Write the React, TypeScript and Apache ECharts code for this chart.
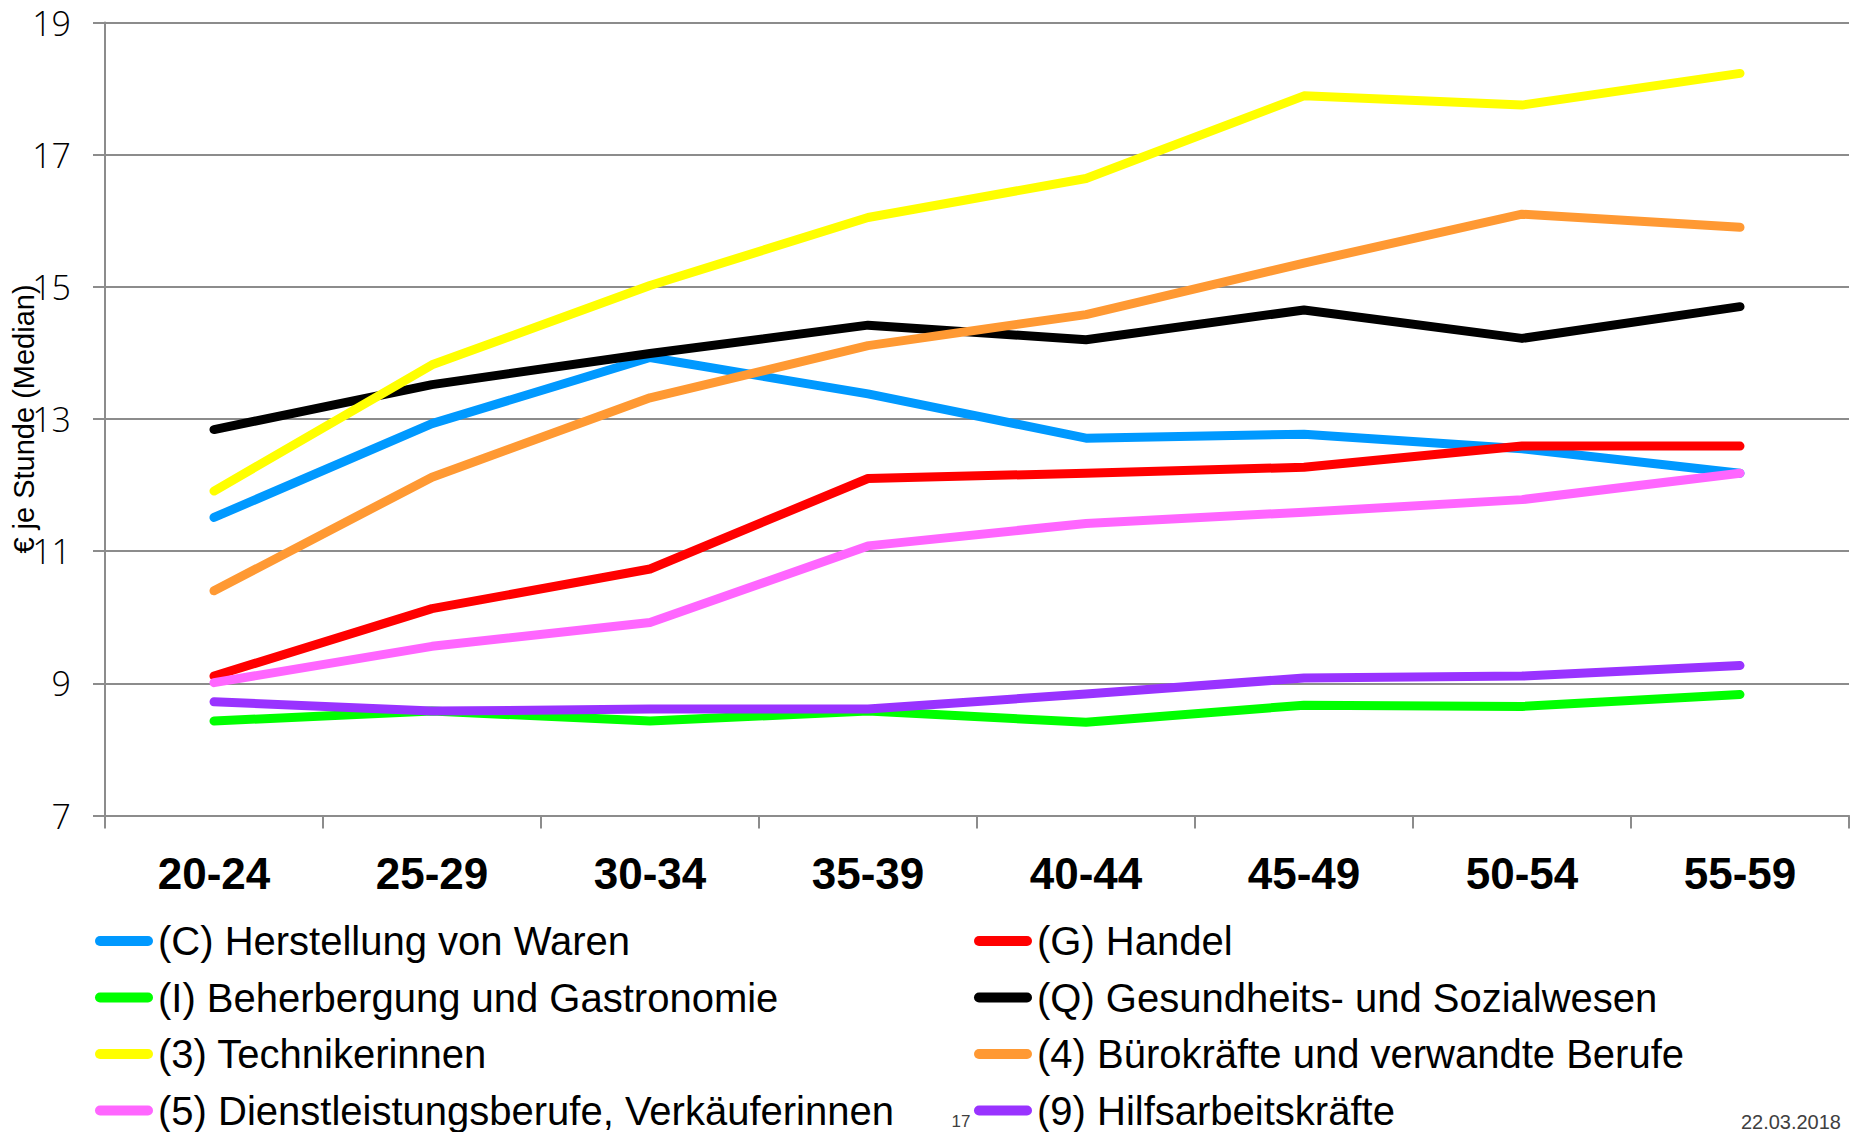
import React, { useEffect, useRef } from "react";
import * as echarts from "echarts";

const categories = ["20-24", "25-29", "30-34", "35-39", "40-44", "45-49", "50-54", "55-59"];

const nameC = "(C) Herstellung von Waren";
const nameG = "(G) Handel";
const nameI = "(I) Beherbergung und Gastronomie";
const nameQ = "(Q) Gesundheits- und Sozialwesen";
const name3 = "(3) Technikerinnen";
const name4 = "(4) Bürokräfte und verwandte Berufe";
const name5 = "(5) Dienstleistungsberufe, Verkäuferinnen";
const name9 = "(9) Hilfsarbeitskräfte";

const valuesC = [11.51, 12.93, 13.93, 13.38, 12.71, 12.77, 12.55, 12.18];
const valuesG = [9.11, 10.13, 10.73, 12.1, 12.18, 12.27, 12.59, 12.59];
const valuesI = [8.43, 8.58, 8.43, 8.58, 8.41, 8.67, 8.65, 8.83];
const valuesQ = [12.84, 13.52, 13.99, 14.42, 14.2, 14.65, 14.22, 14.7];
const values3 = [11.91, 13.82, 15.02, 16.05, 16.64, 17.89, 17.75, 18.23];
const values4 = [10.4, 12.12, 13.32, 14.11, 14.58, 15.36, 16.1, 15.9];
const values5 = [9.01, 9.56, 9.92, 11.08, 11.42, 11.59, 11.78, 12.18];
const values9 = [8.72, 8.58, 8.61, 8.61, 8.84, 9.08, 9.11, 9.27];

const yMin = 7;
const yMax = 19;
const yInterval = 2;

const yAxisName = "€ je Stunde (Median)";
const pageNumber = "17";
const dateText = "22.03.2018";

const seriesDefs = [
  { name: nameC, data: valuesC, color: "#0099FF" },
  { name: nameG, data: valuesG, color: "#FF0000" },
  { name: nameI, data: valuesI, color: "#00FF00" },
  { name: nameQ, data: valuesQ, color: "#000000" },
  { name: name3, data: values3, color: "#FFFF00" },
  { name: name4, data: values4, color: "#FF9933" },
  { name: name5, data: values5, color: "#FF66FF" },
  { name: name9, data: values9, color: "#9933FF" },
];

// legend layout: [name, column, row]
const legendCells: [string, number, number][] = [
  [nameC, 0, 0],
  [nameG, 1, 0],
  [nameI, 0, 1],
  [nameQ, 1, 1],
  [name3, 0, 2],
  [name4, 1, 2],
  [name5, 0, 3],
  [name9, 1, 3],
];

const GRID = "#8c8c8c";
const capsule = "path://M5,0 L53,0 A5,5 0 0 1 53,10 L5,10 A5,5 0 0 1 5,0 Z";

export default function App() {
  const ref = useRef<HTMLDivElement>(null);

  useEffect(() => {
    if (!ref.current) return;
    const chart = echarts.init(ref.current, null, { renderer: "svg" });

    const colLeft = [95, 974];
    const rowTop0 = 921;
    const rowStep = 56.5;

    const legends = legendCells.map(([name, col, row]) => ({
      orient: "horizontal" as const,
      left: colLeft[col],
      top: rowTop0 + row * rowStep,
      padding: 0,
      itemWidth: 58,
      itemHeight: 10,
      icon: capsule,
      data: [name],
      textStyle: {
        fontFamily: "Liberation Sans, Arial, sans-serif",
        fontSize: 40,
        lineHeight: 40,
        color: "#000",
      },
    }));

    chart.setOption({
      animation: false,
      backgroundColor: "#ffffff",
      grid: {
        left: 105,
        right: 7,
        top: 22.5,
        bottom: 316.5,
        containLabel: false,
        outerBoundsMode: "none",
      },
      xAxis: {
        type: "category",
        data: categories,
        boundaryGap: true,
        axisLine: { show: true, lineStyle: { color: GRID, width: 2 } },
        axisTick: { show: true, length: 13, lineStyle: { color: GRID, width: 2 } },
        axisLabel: {
          margin: 36,
          fontFamily: "Liberation Sans, Arial, sans-serif",
          fontWeight: "bold",
          fontSize: 44,
          color: "#000",
        },
        splitLine: { show: false },
      },
      yAxis: {
        type: "value",
        min: yMin,
        max: yMax,
        interval: yInterval,
        name: yAxisName,
        nameLocation: "middle",
        nameRotate: 90,
        nameGap: 67,
        nameMoveOverlap: false,
        nameTextStyle: {
          fontFamily: "Liberation Sans, Arial, sans-serif",
          fontSize: 29,
          color: "#000",
        },
        axisLine: { show: true, lineStyle: { color: GRID, width: 2 } },
        axisTick: { show: true, length: 12, lineStyle: { color: GRID, width: 2 } },
        axisLabel: {
          margin: 34,
          fontFamily: "Open Sans, Liberation Sans, sans-serif",
          fontWeight: 300,
          fontSize: 34,
          color: "#000",
        },
        splitLine: { show: true, lineStyle: { color: GRID, width: 2 } },
      },
      legend: legends,
      graphic: [
        {
          type: "text",
          x: 961,
          y: 1121,
          style: {
            text: pageNumber,
            fontFamily: "Liberation Sans, Arial, sans-serif",
            fontSize: 17,
            fill: "#404040",
            align: "center",
            verticalAlign: "middle",
          },
        },
        {
          type: "text",
          x: 1841,
          y: 1122,
          style: {
            text: dateText,
            fontFamily: "Liberation Sans, Arial, sans-serif",
            fontSize: 20,
            fill: "#404040",
            align: "right",
            verticalAlign: "middle",
          },
        },
      ],
      series: seriesDefs.map((s) => ({
        name: s.name,
        type: "line",
        data: s.data,
        showSymbol: false,
        symbol: "none",
        color: s.color,
        lineStyle: { color: s.color, width: 9, cap: "round", join: "round" },
        itemStyle: { color: s.color },
      })),
    });

    return () => {
      chart.dispose();
    };
  }, []);

  return (
    <div
      ref={ref}
      style={{ position: "fixed", left: 0, top: 0, width: 1856, height: 1132, background: "#fff" }}
    />
  );
}
